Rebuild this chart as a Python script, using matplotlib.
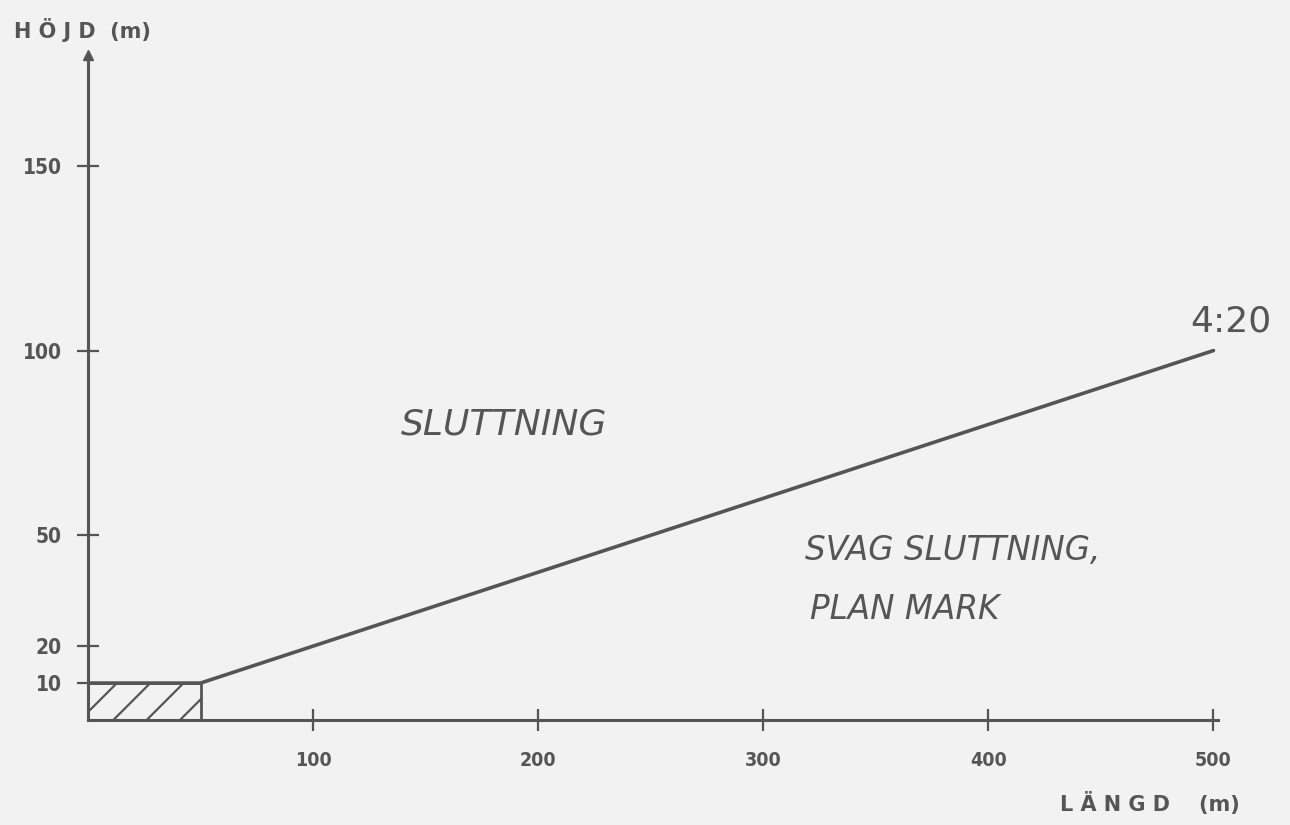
import matplotlib
matplotlib.use("Agg")
import matplotlib.pyplot as plt
from matplotlib.patches import Rectangle

# Profile: flat zone, then slope boundary up to 500 m
boundary_x = [0, 50, 500]
boundary_y = [10, 10, 100]

# Hatched flat zone (length, height)
zone_length = 50
zone_height = 10

x_ticks = [100, 200, 300, 400, 500]
x_labels = ["100", "200", "300", "400", "500"]
y_ticks = [10, 20, 50, 100, 150]
y_labels = ["10", "20", "50", "100", "150"]

ink = "#555555"
paper = "#f2f2f2"
plt.rcParams["hatch.linewidth"] = 1.6
plt.rcParams["hatch.color"] = ink

fig = plt.figure(figsize=(12.9, 8.25), dpi=100, facecolor=paper)
ax = fig.add_axes([88 / 1290, 105 / 825, 1130 / 1290, 665 / 825])
ax.set_facecolor(paper)
ax.set_xlim(0, 502)
ax.set_ylim(0, 180)

for side in ("top", "right"):
    ax.spines[side].set_visible(False)
for side in ("left", "bottom"):
    ax.spines[side].set_color(ink)
    ax.spines[side].set_linewidth(2.2)

ax.set_xticks(x_ticks)
ax.set_xticklabels(x_labels)
ax.set_yticks(y_ticks)
ax.set_yticklabels(y_labels)
ax.tick_params(axis="both", direction="inout", length=16, width=1.6,
               color=ink, labelcolor=ink)
ax.tick_params(axis="x", pad=14, labelsize=14)
ax.tick_params(axis="y", pad=11, labelsize=15)
for lab in ax.get_xticklabels() + ax.get_yticklabels():
    lab.set_fontweight("bold")
    lab.set_fontstretch("condensed")

# Arrow head at the top of the height axis
ax.plot([0], [1], marker="^", markersize=7, color=ink,
        transform=ax.get_xaxis_transform(), clip_on=False)

# Flat zone and slope boundary
ax.add_patch(Rectangle((0, 0), zone_length, zone_height, facecolor="none",
                       edgecolor=ink, linewidth=2.0, hatch="/"))
ax.plot(boundary_x, boundary_y, color=ink, linewidth=2.6,
        solid_capstyle="round")

# Region labels
ax.text(185, 80, "SLUTTNING", style="italic", fontsize=26, color=ink,
        ha="center", va="center", fontweight="light")
ax.text(384, 46, "SVAG SLUTTNING,", style="italic", fontsize=23.5, color=ink,
        ha="center", va="center", fontweight="light")
ax.text(363, 30, "PLAN MARK", style="italic", fontsize=23.5, color=ink,
        ha="center", va="center", fontweight="light")
ax.text(507.5, 108, "4:20", fontsize=26, color=ink, ha="center", va="center",
        clip_on=False)

# Axis titles
fig.text(14 / 1290, 1 - 30 / 825, "H Ö J D  (m)", fontsize=15, color=ink,
         fontweight="bold", ha="left", va="center")
fig.text(1240 / 1290, 1 - 803 / 825, "L Ä N G D    (m)", fontsize=15,
         color=ink, fontweight="bold", ha="right", va="center")

fig.savefig("out.png", dpi=100, facecolor=paper)
